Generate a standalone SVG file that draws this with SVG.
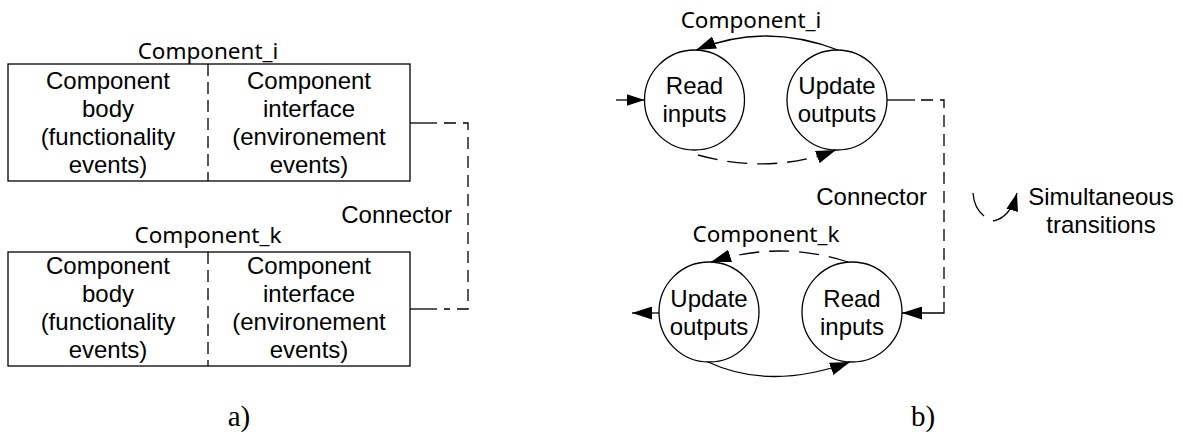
<svg xmlns="http://www.w3.org/2000/svg" width="1183" height="432" viewBox="0 0 1183 432">
  <style>
    .bg { fill: #ffffff; }
    .box { fill: none; stroke: #000; stroke-width: 1.3; }
    .div { fill: none; stroke: #000; stroke-width: 1.3; stroke-dasharray: 12 6; }
    .state { fill: #ffffff; stroke: #000; stroke-width: 1.3; }
    .t { font-family: "Liberation Sans", Arial, sans-serif; font-size: 24px; fill: #000; text-anchor: middle; }
    .name { font-family: "Noto Sans", "Liberation Sans", sans-serif; font-size: 22.5px; fill: #000; text-anchor: middle; }
    .cap { font-family: "Liberation Serif", "Times New Roman", serif; font-size: 29px; fill: #000; text-anchor: middle; }
    .solid { fill: none; stroke: #000; stroke-width: 1.3; }
    .dash { fill: none; stroke: #000; stroke-width: 1.3; stroke-dasharray: 12 7; }
    .ldash { fill: none; stroke: #000; stroke-width: 1.3; stroke-dasharray: 20 10; }
  </style>
  <defs>
    <marker id="arrow" markerUnits="userSpaceOnUse" markerWidth="21" markerHeight="13" refX="20" refY="6.5" orient="auto">
      <path d="M0,0 L20,6.5 L0,13 z" fill="#000" stroke="none"/>
    </marker>
    <marker id="arrowSmall" markerUnits="userSpaceOnUse" markerWidth="19" markerHeight="12" refX="18" refY="6" orient="auto">
      <path d="M0,0 L18,6 L0,12 z" fill="#000" stroke="none"/>
    </marker>
  </defs>

  <rect class="bg" x="0" y="0" width="1183" height="432"/>

  <!-- a) component structure -->
  <g id="component-i-box">
    <text class="name" x="208" y="59">Component_i</text>
    <rect class="box" x="8" y="64" width="402" height="117"/>
    <line class="div" x1="208" y1="64" x2="208" y2="181"/>
    <text class="t" x="108" y="89">Component</text>
    <text class="t" x="108" y="117">body</text>
    <text class="t" x="108" y="145">(functionality</text>
    <text class="t" x="108" y="173">events)</text>
    <text class="t" x="309" y="89">Component</text>
    <text class="t" x="309" y="117">interface</text>
    <text class="t" x="309" y="145">(environement</text>
    <text class="t" x="309" y="173">events)</text>
  </g>

  <g id="component-k-box">
    <text class="name" x="208" y="243">Component_k</text>
    <rect class="box" x="8" y="252" width="402" height="114"/>
    <line class="div" x1="208" y1="252" x2="208" y2="366"/>
    <text class="t" x="108" y="274">Component</text>
    <text class="t" x="108" y="302">body</text>
    <text class="t" x="108" y="330">(functionality</text>
    <text class="t" x="108" y="358">events)</text>
    <text class="t" x="309" y="274">Component</text>
    <text class="t" x="309" y="302">interface</text>
    <text class="t" x="309" y="330">(environement</text>
    <text class="t" x="309" y="358">events)</text>
  </g>

  <g id="label-a">
    <text class="cap" x="239" y="426">a)</text>
  </g>

  <!-- b) state machines -->
  <g id="i-read">
    <circle class="state" cx="694.5" cy="100" r="50"/>
    <text class="t" x="694.5" y="94">Read</text>
    <text class="t" x="694.5" y="122">inputs</text>
  </g>
  <g id="i-update">
    <circle class="state" cx="837" cy="100" r="50"/>
    <text class="t" x="837" y="94">Update</text>
    <text class="t" x="837" y="122">outputs</text>
  </g>
  <g id="i-name">
    <text class="name" x="751" y="28">Component_i</text>
  </g>

  <g id="k-update">
    <circle class="state" cx="709" cy="312" r="50"/>
    <text class="t" x="709" y="307">Update</text>
    <text class="t" x="709" y="335">outputs</text>
  </g>
  <g id="k-read">
    <circle class="state" cx="852" cy="312" r="50"/>
    <text class="t" x="852" y="307">Read</text>
    <text class="t" x="852" y="335">inputs</text>
  </g>
  <g id="k-name">
    <text class="name" x="766" y="242">Component_k</text>
  </g>

  <g id="legend">
    <text class="t" x="1101" y="205">Simultaneous</text>
    <text class="t" x="1101" y="233">transitions</text>
  </g>

  <g id="label-b">
    <text class="cap" x="923" y="426">b)</text>
  </g>

  <!-- connectors -->
  <g id="connectors">
    <!-- a) interface link -->
    <line class="solid" x1="410" y1="123" x2="437" y2="123"/>
    <path class="dash" d="M444,123 H468 V309 H444"/>
    <line class="solid" x1="437" y1="309" x2="410" y2="309"/>
    <text class="t" x="452" y="223" style="text-anchor:end">Connector</text>

    <!-- b) component_i transitions -->
    <line class="solid" x1="616" y1="100" x2="644.5" y2="100" marker-end="url(#arrowSmall)"/>
    <path class="solid" d="M838,50 Q765,22 696,50" marker-end="url(#arrow)"/>
    <path class="ldash" d="M698,155 Q770,175 836,150" marker-end="url(#arrow)"/>

    <!-- b) component_k transitions -->
    <line class="solid" x1="659" y1="313" x2="632" y2="313" marker-end="url(#arrow)"/>
    <path class="ldash" d="M848,262 Q780,240 711,262" marker-end="url(#arrow)"/>
    <path class="solid" d="M708,362 Q770,391 850,362" marker-end="url(#arrow)"/>

    <!-- b) interface link -->
    <line class="solid" x1="887" y1="100" x2="915" y2="100"/>
    <path class="dash" d="M921,100 H944 V302"/>
    <path class="solid" d="M944,302 V313 H902" marker-end="url(#arrow)"/>
    <text class="t" x="927" y="205" style="text-anchor:end">Connector</text>

    <!-- legend arrow -->
    <path class="solid" d="M973,193 Q974,208 984,216"/>
    <path class="solid" d="M993,221 Q1010,218 1017,193" marker-end="url(#arrowSmall)"/>
  </g>
</svg>
